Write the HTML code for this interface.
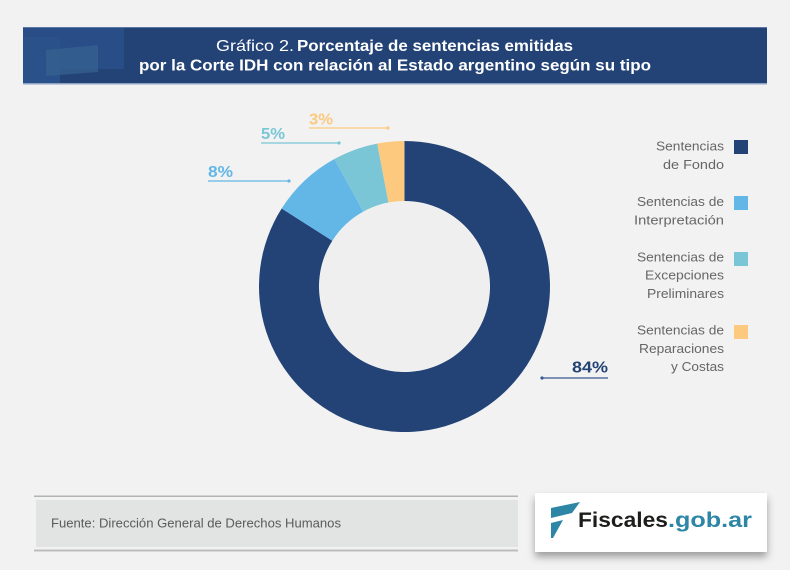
<!DOCTYPE html>
<html>
<head>
<meta charset="utf-8">
<style>
html,body{margin:0;padding:0;background:#f2f2f2;}
svg{display:block;}
text{font-family:"Liberation Sans",sans-serif;}
</style>
</head>
<body>
<svg width="790" height="570" viewBox="0 0 790 570" xmlns="http://www.w3.org/2000/svg">
  <defs>
    <filter id="sh" x="-10%" y="-20%" width="120%" height="160%">
      <feDropShadow dx="0" dy="5" stdDeviation="4" flood-color="#000" flood-opacity="0.35"/>
    </filter>
  </defs>
  <rect x="0" y="0" width="790" height="570" fill="#f2f2f2"/>

  <!-- Header -->
  <rect x="23" y="27" width="744" height="57" fill="#234377"/>
  <rect x="23" y="27" width="101" height="42" fill="#294d86"/>
  <rect x="23" y="37" width="37" height="47" fill="#2a5189"/>
  <polygon points="46,50 98,45 98,72 46,76" fill="#35608f" opacity="0.8"/>
  <rect x="23" y="27" width="744" height="1" fill="#5b77a3"/>
  <rect x="23" y="83" width="744" height="1.5" fill="#8ea2c2"/>
  <text y="51" fill="#ffffff" font-size="16">
    <tspan x="216" textLength="78" lengthAdjust="spacingAndGlyphs">Gráfico 2.</tspan><tspan x="297" font-weight="bold" textLength="276" lengthAdjust="spacingAndGlyphs">Porcentaje de sentencias emitidas</tspan>
  </text>
  <text x="139" y="70.7" fill="#ffffff" font-size="16" font-weight="bold" textLength="512" lengthAdjust="spacingAndGlyphs">por la Corte IDH con relación al Estado argentino según su tipo</text>

  <!-- Donut -->
  <path d="M 404.5 141 A 145.5 145.5 0 1 1 281.65 208.54 L 332.31 240.69 A 85.5 85.5 0 1 0 404.5 201 Z" fill="#234377"/>
  <path d="M 281.65 208.54 A 145.5 145.5 0 0 1 334.40 158.99 L 363.31 211.58 A 85.5 85.5 0 0 0 332.31 240.69 Z" fill="#63b7e6"/>
  <path d="M 334.40 158.99 A 145.5 145.5 0 0 1 377.23 143.57 L 388.48 202.51 A 85.5 85.5 0 0 0 363.31 211.58 Z" fill="#7ac6d6"/>
  <path d="M 377.23 143.57 A 145.5 145.5 0 0 1 404.5 141 L 404.5 201 A 85.5 85.5 0 0 0 388.48 202.51 Z" fill="#fdc97f"/>
  <circle cx="404.5" cy="286.5" r="85" fill="#efefef"/>

  <!-- Labels -->
  <text x="309" y="124.3" fill="#fdc97f" font-size="16" font-weight="bold" textLength="24" lengthAdjust="spacingAndGlyphs">3%</text>
  <line x1="309" y1="128" x2="388" y2="128" stroke="#fdc97f" stroke-width="1.2"/>
  <circle cx="388" cy="128" r="1.6" fill="#fdc97f"/>

  <text x="261" y="139" fill="#7ac6d6" font-size="16" font-weight="bold" textLength="24" lengthAdjust="spacingAndGlyphs">5%</text>
  <line x1="261" y1="143" x2="339" y2="143" stroke="#7ac6d6" stroke-width="1.2"/>
  <circle cx="339" cy="143" r="1.6" fill="#7ac6d6"/>

  <text x="208" y="177" fill="#63b7e6" font-size="16" font-weight="bold" textLength="25" lengthAdjust="spacingAndGlyphs">8%</text>
  <line x1="208" y1="181" x2="289" y2="181" stroke="#63b7e6" stroke-width="1.2"/>
  <circle cx="289" cy="181" r="1.6" fill="#63b7e6"/>

  <text x="572" y="372.7" fill="#234377" font-size="16" font-weight="bold" textLength="36" lengthAdjust="spacingAndGlyphs">84%</text>
  <line x1="542" y1="378" x2="608" y2="378" stroke="#3a5a95" stroke-width="1.2"/>
  <circle cx="542" cy="378" r="1.6" fill="#3a5a95"/>

  <!-- Legend -->
  <g fill="#666666" font-size="13" text-anchor="end">
    <text x="724" y="150.5" textLength="68" lengthAdjust="spacingAndGlyphs">Sentencias</text>
    <text x="724" y="169" textLength="61" lengthAdjust="spacingAndGlyphs">de Fondo</text>

    <text x="724" y="206" textLength="87" lengthAdjust="spacingAndGlyphs">Sentencias de</text>
    <text x="724" y="224.5" textLength="90" lengthAdjust="spacingAndGlyphs">Interpretación</text>

    <text x="724" y="261.3" textLength="87" lengthAdjust="spacingAndGlyphs">Sentencias de</text>
    <text x="724" y="279.5" textLength="79" lengthAdjust="spacingAndGlyphs">Excepciones</text>
    <text x="724" y="298" textLength="77" lengthAdjust="spacingAndGlyphs">Preliminares</text>

    <text x="724" y="334.3" textLength="87" lengthAdjust="spacingAndGlyphs">Sentencias de</text>
    <text x="724" y="353" textLength="85" lengthAdjust="spacingAndGlyphs">Reparaciones</text>
    <text x="724" y="371" textLength="53" lengthAdjust="spacingAndGlyphs">y Costas</text>
  </g>
  <rect x="734" y="140" width="14" height="14" fill="#234377"/>
  <rect x="734" y="196" width="14" height="14" fill="#63b7e6"/>
  <rect x="734" y="252" width="14" height="14" fill="#7ac6d6"/>
  <rect x="734" y="325" width="14" height="14" fill="#fdc97f"/>

  <!-- Footer source -->
  <rect x="34" y="495.5" width="484" height="1.5" fill="#b3b3b3"/>
  <rect x="36" y="500" width="482" height="47" fill="#e2e3e3"/>
  <rect x="34" y="549.5" width="484" height="2" fill="#bdbdbd"/>
  <text x="51" y="527.5" fill="#5a5a5a" font-size="12.5" textLength="290" lengthAdjust="spacingAndGlyphs">Fuente: Dirección General de Derechos Humanos</text>

  <!-- Logo -->
  <rect x="535" y="493" width="232" height="59" fill="#ffffff" filter="url(#sh)"/>
  <polygon points="551,508 580,502 572,513 551,518" fill="#2d86a6"/>
  <polygon points="551,523 563,520 553,538 551,538" fill="#2d86a6"/>
  <text x="578" y="527" font-size="21" font-weight="bold">
    <tspan fill="#1d1d1b" textLength="90" lengthAdjust="spacingAndGlyphs">Fiscales</tspan><tspan fill="#2d86a6" textLength="84" lengthAdjust="spacingAndGlyphs">.gob.ar</tspan>
  </text>
</svg>
</body>
</html>
